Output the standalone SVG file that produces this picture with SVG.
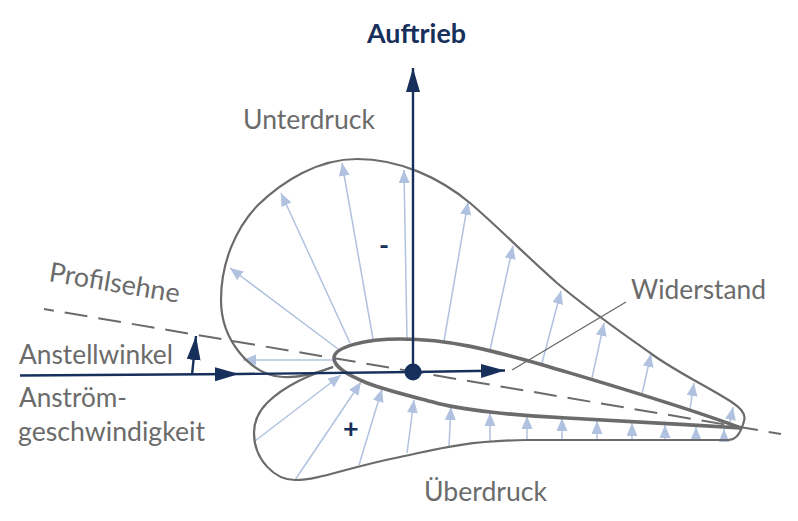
<svg xmlns="http://www.w3.org/2000/svg" width="798" height="521" viewBox="0 0 798 521">
<style>
text{font-family:"Lato","Liberation Sans",sans-serif;fill:#6b6b6b;font-size:27px}
.navy{fill:#172f5b;font-weight:700}
.p{fill:none;stroke:#6b6b6b;stroke-width:2.2;stroke-linejoin:round}
.foil{fill:none;stroke:#6b6b6b;stroke-width:3.6}
.b{stroke:#b0c2df;stroke-width:1.5;fill:none;marker-end:url(#hb)}
.n{stroke:#172f5b;fill:none;stroke-width:2.4}
</style>
<defs>
<marker id="hb" markerUnits="userSpaceOnUse" markerWidth="16" markerHeight="12" refX="13" refY="5.5" orient="auto"><path d="M0 0L13 5.5L0 11Z" fill="#b0c2df"/></marker>
<marker id="hn" markerUnits="userSpaceOnUse" markerWidth="26" markerHeight="16" refX="24" refY="7" orient="auto"><path d="M0 0L24 7L0 14Z" fill="#172f5b"/></marker>
</defs>
<rect width="798" height="521" fill="#fff"/>
<g id="connectors">
<g id="pressure-arrows">
<path class="b" d="M338 349L230 268"/><path class="b" d="M350 343L281 193"/><path class="b" d="M373 339L342 163"/><path class="b" d="M407 339L404 170"/><path class="b" d="M444 341L468 202"/><path class="b" d="M490 350L513 246"/><path class="b" d="M542 363L561 291"/><path class="b" d="M592 378L604 323"/><path class="b" d="M642 394L651 354"/><path class="b" d="M690 409L694 383"/><path class="b" d="M730 422L733 407"/><path class="b" d="M335 360L243 360"/>
<path class="b" d="M255 441L341 375"/><path class="b" d="M295 480L361 382"/><path class="b" d="M359 465L382 389"/><path class="b" d="M407 453L414 400"/><path class="b" d="M449 446L451 407"/><path class="b" d="M490 441L490 413"/><path class="b" d="M527 440L527 416"/><path class="b" d="M562 440L562 418"/><path class="b" d="M597 440L597 421"/><path class="b" d="M632 440L632 423"/><path class="b" d="M665 440L665 425"/><path class="b" d="M696 440L696 427"/><path class="b" d="M724 440L724 429"/>
</g>
<path id="chord" d="M44 309L781 434" fill="none" stroke="#6b6b6b" stroke-width="2" stroke-dasharray="23 11" stroke-dashoffset="13"/>
<path id="leader" d="M512 370L626 302" fill="none" stroke="#6b6b6b" stroke-width="1.4"/>
</g>
<g id="suction"><path class="p" d="M333 367C316 373 300 378 283 377C250 375 221 340 221 300C221 262 236 228 258 205C283 181 318 159 357 159C400 159 440 178 470 203C497 226 520 250 557 283C590 311 622 333 653 355C680 374 712 389 733 403C742 409 746 415 744 421C743 425 742 428 740 430"/></g>
<g id="pressure"><path class="p" d="M333 367C310 375 285 385 267 403C258 412 254 422 254 433C254 460 275 480 295 480C320 480 345 468 400 457C430 451 460 441 527 440L728 440C735 440 739 436 742 427"/></g>
<g id="airfoil"><path class="foil" d="M334 358C334 347 365 339 400 339C450 339 490 350 543 365C610 385 680 405 741 428C680 424 600 420 567 418C520 416 460 410 433 402C410 396 385 390 367 383C350 376 334 368 334 358Z"/></g>
<g id="force-arrows">
<path class="n" d="M20 375.5L239 374" marker-end="url(#hn)"/>
<path class="n" d="M239 374L413 372"/>
<path class="n" d="M413 372L505 370.5" marker-end="url(#hn)"/>
<path class="n" d="M413 372L413 68" marker-end="url(#hn)"/>
<path class="n" d="M192 375L196 336" marker-end="url(#hn)"/>
</g>
<g id="centre"><circle cx="413" cy="372" r="8.5" fill="#172f5b"/></g>
<g id="labels">
<text class="navy" x="367" y="43" textLength="99" lengthAdjust="spacingAndGlyphs">Auftrieb</text>
<text x="243" y="129" textLength="132" lengthAdjust="spacingAndGlyphs">Unterdruck</text>
<text transform="translate(48 281) rotate(9.5)" textLength="132" lengthAdjust="spacingAndGlyphs">Profilsehne</text>
<text x="631" y="299" textLength="135" lengthAdjust="spacingAndGlyphs">Widerstand</text>
<text x="19" y="364" textLength="154" lengthAdjust="spacingAndGlyphs">Anstellwinkel</text>
<text x="19" y="407" textLength="108" lengthAdjust="spacingAndGlyphs">Anström-</text>
<text x="18" y="441" textLength="187" lengthAdjust="spacingAndGlyphs">geschwindigkeit</text>
<text x="424" y="501" textLength="123" lengthAdjust="spacingAndGlyphs">Überdruck</text>
<text class="navy" x="379" y="255">-</text>
<text class="navy" x="343" y="438">+</text>
</g>
</svg>
